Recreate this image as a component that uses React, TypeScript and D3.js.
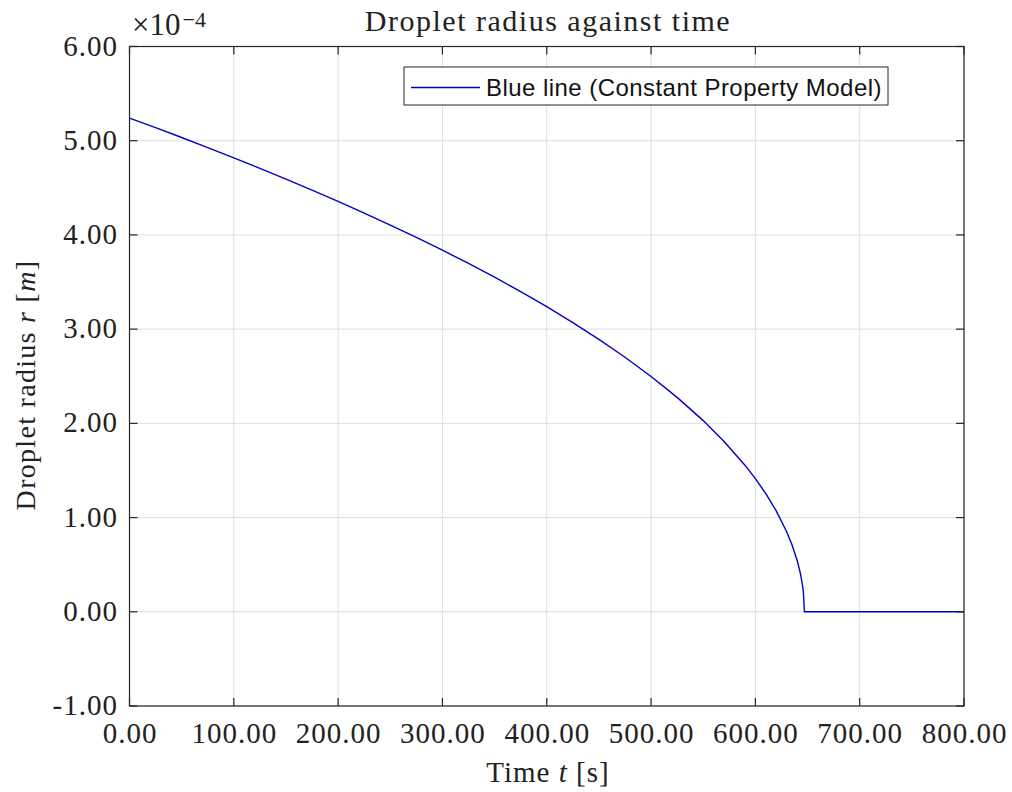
import React from "react";
import * as d3 from "d3";

const timeS = [0, 25, 50, 75, 100, 125, 150, 175, 200, 225, 250, 275, 300, 325, 350, 375, 400, 425, 450, 475, 500, 525, 550, 570, 590, 600, 610, 620, 630, 635, 640, 643, 645, 646, 647, 700, 800];
const radiusE4 = [5.24, 5.138, 5.034, 4.927, 4.818, 4.707, 4.593, 4.476, 4.356, 4.232, 4.105, 3.974, 3.838, 3.697, 3.551, 3.398, 3.238, 3.07, 2.892, 2.702, 2.498, 2.276, 2.029, 1.808, 1.556, 1.413, 1.254, 1.071, 0.85, 0.715, 0.547, 0.415, 0.295, 0.211, 0, 0, 0];
const xTicks = [0, 100, 200, 300, 400, 500, 600, 700, 800];
const yTicks = [-1, 0, 1, 2, 3, 4, 5, 6];

const W = 1012, H = 792;
const L = 129.5, R = 964, T = 46.5, B = 706;
const serif = "'Liberation Serif', 'DejaVu Serif', serif";

export default function App() {
  const x = d3.scaleLinear().domain([0, 800]).range([L, R]);
  const y = d3.scaleLinear().domain([-1, 6]).range([B, T]);
  const pts = timeS.map((t, i) => [t, radiusE4[i]] as [number, number]);
  const line = d3.line<[number, number]>().x(d => x(d[0])).y(d => y(d[1]));
  const axis = "#262626";
  return (
    <svg width={W} height={H} style={{ position: "absolute", left: 0, top: 0, background: "#fff" }}>
      <rect x={0} y={0} width={W} height={H} fill="#fff" />
      {xTicks.map(t => (
        <line key={"gx" + t} x1={x(t)} x2={x(t)} y1={T} y2={B} stroke="#dedede" strokeWidth={1} />
      ))}
      {yTicks.map(t => (
        <line key={"gy" + t} x1={L} x2={R} y1={y(t)} y2={y(t)} stroke="#dedede" strokeWidth={1} />
      ))}
      <path d={line(pts) || ""} fill="none" stroke="#0000c8" strokeWidth={1.4} />
      <rect x={L} y={T} width={R - L} height={B - T} fill="none" stroke={axis} strokeWidth={1.2} />
      {xTicks.map(t => (
        <g key={"tx" + t}>
          <line x1={x(t)} x2={x(t)} y1={B} y2={B - 8} stroke={axis} strokeWidth={1.2} />
          <line x1={x(t)} x2={x(t)} y1={T} y2={T + 8} stroke={axis} strokeWidth={1.2} />
          <text x={x(t) + 0.5} y={743} textAnchor="middle" fontFamily={serif} fontSize={29} letterSpacing={1} fill="#222">
            {t.toFixed(2)}
          </text>
        </g>
      ))}
      {yTicks.map(t => (
        <g key={"ty" + t}>
          <line x1={L} x2={L + 8} y1={y(t)} y2={y(t)} stroke={axis} strokeWidth={1.2} />
          <line x1={R} x2={R - 8} y1={y(t)} y2={y(t)} stroke={axis} strokeWidth={1.2} />
          <text x={118} y={y(t) + 9} textAnchor="end" fontFamily={serif} fontSize={29} letterSpacing={1} fill="#222">
            {t.toFixed(2)}
          </text>
        </g>
      ))}
      <text x={132} y={35} fontFamily={serif} fontSize={31} fill="#222">
        ×10<tspan dx={2} dy={-8} fontSize={22}>−4</tspan>
      </text>
      <text x={548} y={31} textAnchor="middle" fontFamily={serif} fontSize={30} letterSpacing={1.5} fill="#222">
        Droplet radius against time
      </text>
      <text x={548} y={782} textAnchor="middle" fontFamily={serif} fontSize={29} letterSpacing={1} fill="#222">
        Time <tspan fontStyle="italic">t</tspan> [s]
      </text>
      <text transform={`translate(35, 385) rotate(-90)`} textAnchor="middle" fontFamily={serif} fontSize={28} letterSpacing={1.3} fill="#222">
        Droplet radius <tspan fontStyle="italic">r</tspan> [<tspan fontStyle="italic">m</tspan>]
      </text>
      <rect x={404} y={67} width={484} height={38} fill="#fff" stroke={axis} strokeWidth={1} />
      <line x1={411} x2={480} y1={87.5} y2={87.5} stroke="#0000c8" strokeWidth={1.4} />
      <text x={486} y={96} fontFamily="'Liberation Sans', Arial, sans-serif" fontSize={24} letterSpacing={0.45} fill="#111">
        Blue line (Constant Property Model)
      </text>
    </svg>
  );
}
